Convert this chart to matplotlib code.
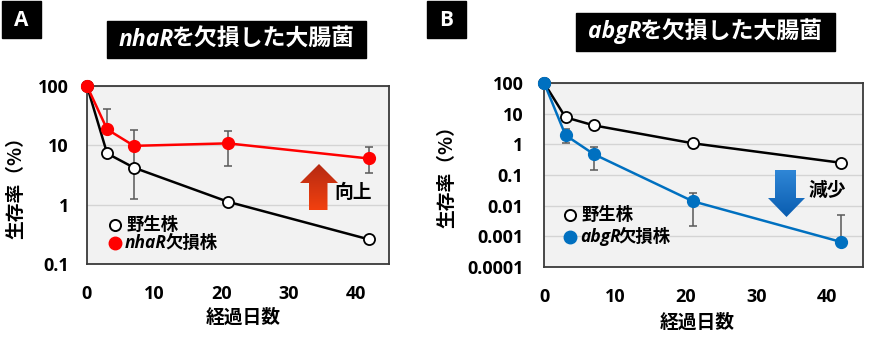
import matplotlib
matplotlib.use('Agg')
import matplotlib.pyplot as plt
import numpy as np
from matplotlib.patches import Rectangle, Polygon
from matplotlib.lines import Line2D

# ---------------- data ----------------
days = [0, 3, 7, 21, 42]
x_ticks = [0, 10, 20, 30, 40]

wt_A = [100, 7.3, 4.2, 1.12, 0.26]
nhaR = [100, 18.6, 9.8, 10.8, 6.0]
nhaR_hi = [100, 41, 18, 17.6, 9.3]
nhaR_lo = [100, 18.6, 1.23, 4.5, 3.4]
yticks_A = [0.1, 1, 10, 100]
ylabels_A = ["0.1", "1", "10", "100"]

wt_B = [100, 7.7, 4.2, 1.09, 0.25]
abgR = [100, 2.0, 0.48, 0.0138, 0.00064]
abgR_hi = [100, 3.1, 0.85, 0.026, 0.0049]
abgR_lo = [100, 1.09, 0.145, 0.0021, 0.00064]
yticks_B = [0.0001, 0.001, 0.01, 0.1, 1, 10, 100]
ylabels_B = ["0.0001", "0.001", "0.01", "0.1", "1", "10", "100"]

RED = '#ff0000'
BLUE = '#0070c0'
ERR = '#595959'

JP = ['Noto Sans CJK JP', 'DejaVu Sans']
LAT = ['Open Sans', 'Noto Sans CJK JP', 'DejaVu Sans']

W, H = 883, 347
fig = plt.figure(figsize=(W / 100, H / 100), dpi=100)
fig.patch.set_facecolor('white')


def fx(x):
    return x / W


def fy(y):
    return 1 - y / H


def style_ax(ax, yt, yl, ylim, ypad):
    ax.set_yscale('log')
    ax.set_ylim(*ylim)
    ax.set_xlim(0, 45)
    ax.set_facecolor('#f2f2f2')
    ax.set_xticks(x_ticks)
    ax.set_xticklabels([str(t) for t in x_ticks])
    ax.set_yticks(yt)
    ax.set_yticklabels(yl)
    ax.yaxis.set_minor_locator(matplotlib.ticker.NullLocator())
    ax.tick_params(axis='both', length=0, labelsize=13)
    ax.tick_params(axis='x', pad=15)
    ax.tick_params(axis='y', pad=ypad)
    for lab in ax.get_xticklabels() + ax.get_yticklabels():
        lab.set_fontweight('bold')
        lab.set_family(LAT)
    ax.grid(axis='y', color='#d4d4d4', lw=1)
    ax.set_axisbelow(True)
    for sp in ax.spines.values():
        sp.set_color('#3a3a3a')
        sp.set_linewidth(1.3)


def errs(vals, lo, hi):
    v = np.array(vals, float)
    return np.vstack([v - np.array(lo, float), np.array(hi, float) - v])


# ---------------- Panel A ----------------
axA = fig.add_axes([fx(87), fy(264), (389 - 87) / W, (264 - 86) / H])
style_ax(axA, yticks_A, ylabels_A, (0.1, 100), 13)
axA.errorbar(days[1:], nhaR[1:], yerr=errs(nhaR, nhaR_lo, nhaR_hi)[:, 1:], fmt='none',
             ecolor=ERR, elinewidth=1.1, capsize=3, capthick=1.1, zorder=3)
axA.plot(days, wt_A, color='black', lw=1.8, marker='o', ms=8, mfc='white', mec='black',
         mew=1.3, zorder=4, clip_on=False)
axA.plot(days, nhaR, color=RED, lw=1.8, marker='o', ms=8.5, mfc=RED, mec=RED,
         zorder=5, clip_on=False)

# ---------------- Panel B ----------------
axB = fig.add_axes([fx(544.3), fy(266.7), (862.7 - 544.3) / W, (266.7 - 83.3) / H])
style_ax(axB, yticks_B, ylabels_B, (0.0001, 100), 15)
axB.errorbar(days[1:], abgR[1:], yerr=errs(abgR, abgR_lo, abgR_hi)[:, 1:], fmt='none',
             ecolor=ERR, elinewidth=1.1, capsize=3, capthick=1.1, zorder=3)
axB.plot(days, wt_B, color='black', lw=1.8, marker='o', ms=8, mfc='white', mec='black',
         mew=1.3, zorder=4, clip_on=False)
axB.plot(days, abgR, color=BLUE, lw=1.8, marker='o', ms=8.5, mfc=BLUE, mec=BLUE,
         zorder=5, clip_on=False)

# ---------------- text helpers ----------------
fig.canvas.draw()
renderer = fig.canvas.get_renderer()


def mixed_text(x, y, parts, size, color, ha='left'):
    arts = []
    widths = []
    for s, ital in parts:
        t = fig.text(0, 0, s, fontsize=size, fontweight='bold', color=color,
                     family=LAT if ital else JP, style='italic' if ital else 'normal',
                     va='center', ha='left')
        bb = t.get_window_extent(renderer)
        arts.append(t)
        widths.append(bb.width - (2 if ital else 0))
    total = sum(widths)
    cur = x - total / 2 if ha == 'center' else x
    for t, w in zip(arts, widths):
        t.set_position((fx(cur), fy(y)))
        cur += w


# panel labels
for (x0, x1, y0, y1, lab) in [(2, 41, 1, 38, 'A'), (427, 466, 1, 38, 'B')]:
    fig.add_artist(Rectangle((fx(x0), fy(y1)), (x1 - x0) / W, (y1 - y0) / H,
                             transform=fig.transFigure, color='black'))
    fig.text(fx((x0 + x1) / 2), fy((y0 + y1) / 2 + 1), lab, color='white', fontsize=15,
             fontweight='bold', family=LAT, ha='center', va='center')

# title boxes
for (x0, x1, y0, y1, gene) in [(107, 366, 21, 58, 'nhaR'), (576, 835, 13, 51, 'abgR')]:
    fig.add_artist(Rectangle((fx(x0), fy(y1)), (x1 - x0) / W, (y1 - y0) / H,
                             transform=fig.transFigure, color='black'))
    mixed_text((x0 + x1) / 2, (y0 + y1) / 2, [(gene, True), ('を欠損した大腸菌', False)],
               16.5, 'white', ha='center')

# axis labels
fig.text(fx(16), fy(183), '生存率（%）', rotation=90, fontsize=13.5, fontweight='bold',
         family=JP, ha='center', va='center')
fig.text(fx(447), fy(172), '生存率（%）', rotation=90, fontsize=13.5, fontweight='bold',
         family=JP, ha='center', va='center')
fig.text(fx(243), fy(317), '経過日数', fontsize=13.5, fontweight='bold', family=JP,
         ha='center', va='center')
fig.text(fx(697), fy(322), '経過日数', fontsize=13.5, fontweight='bold', family=JP,
         ha='center', va='center')

# legends
def legend(xc, y1, y2, color, gene):
    fig.add_artist(Line2D([fx(xc)], [fy(y1)], transform=fig.transFigure, marker='o', ms=8,
                          mfc='white', mec='black', mew=1.4, ls='none'))
    fig.add_artist(Line2D([fx(xc)], [fy(y2)], transform=fig.transFigure, marker='o', ms=9,
                          mfc=color, mec=color, ls='none'))
    mixed_text(xc + 11, y1, [('野生株', False)], 12.5, 'black')
    mixed_text(xc + 10, y2, [(gene, True), ('欠損株', False)], 12.5, 'black')


legend(115, 225, 243, RED, 'nhaR')
legend(570, 215, 237, BLUE, 'abgR')


# arrows with gradient
def grad_arrow(poly, c_top, c_bot):
    xs = [p[0] for p in poly]
    ys = [p[1] for p in poly]
    x0, x1, y0, y1 = min(xs), max(xs), min(ys), max(ys)
    ax = fig.add_axes([fx(x0), fy(y1), (x1 - x0) / W, (y1 - y0) / H])
    ax.set_xlim(x0, x1)
    ax.set_ylim(y1, y0)
    ax.axis('off')
    ct = np.array(matplotlib.colors.to_rgb(c_top))
    cb = np.array(matplotlib.colors.to_rgb(c_bot))
    t = np.linspace(0, 1, 64)[:, None]
    img = (ct[None, :] * (1 - t) + cb[None, :] * t)[:, None, :]
    img = np.repeat(img, 2, axis=1)
    im = ax.imshow(img, extent=(x0, x1, y1, y0), aspect='auto', origin='upper')
    pg = Polygon(poly, closed=True, facecolor='none', edgecolor='none')
    ax.add_patch(pg)
    im.set_clip_path(pg)


grad_arrow([(319, 164), (338, 183), (327.5, 183), (327.5, 210), (309, 210), (309, 183),
            (300, 183)], '#b52a12', '#f2400f')
grad_arrow([(775, 170), (796, 170), (796, 198), (805, 198), (786.5, 217), (768, 198),
            (775, 198)], '#2f86d6', '#0a5db0')

fig.text(fx(353), fy(192), '向上', fontsize=13.5, fontweight='bold', family=JP,
         ha='center', va='center')
fig.text(fx(827), fy(190), '減少', fontsize=13.5, fontweight='bold', family=JP,
         ha='center', va='center')

fig.savefig('out.png', dpi=100)
